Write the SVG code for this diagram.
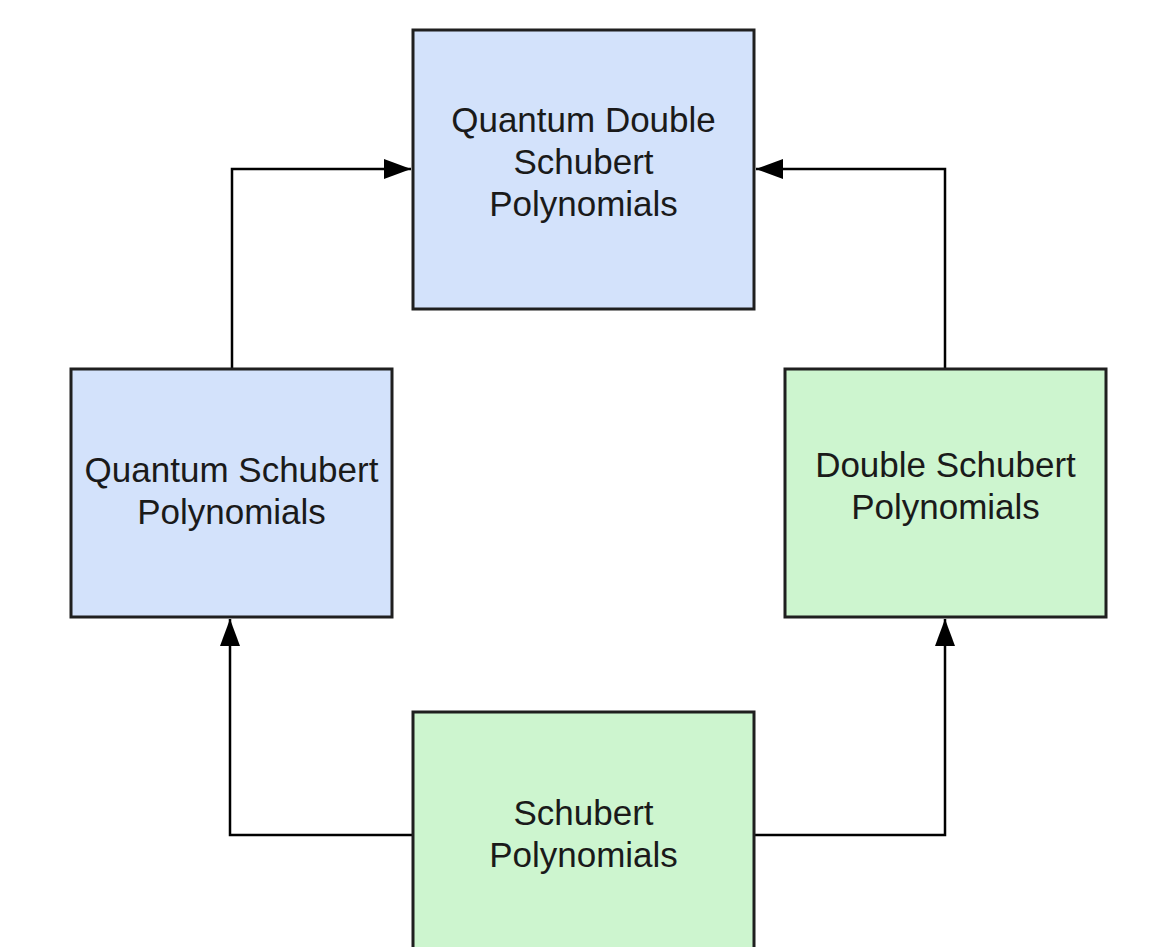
<svg xmlns="http://www.w3.org/2000/svg" width="1151" height="947" viewBox="0 0 1151 947">
<style>
.box{stroke:#1f1f1f;stroke-width:3}
.blue{fill:#d3e2fb}
.green{fill:#cdf5cf}
.lbl{font-family:"Liberation Sans",Arial,sans-serif;font-size:35px;fill:#1a1a1a;text-anchor:middle}
.conn{fill:none;stroke:#000;stroke-width:2.5}
</style>
<defs>
<marker id="arr" markerUnits="userSpaceOnUse" markerWidth="28" markerHeight="20" refX="27" refY="10" orient="auto">
<path d="M0,0 L27,10 L0,20 Z" fill="#000"/>
</marker>
</defs>
<rect width="1151" height="947" fill="#fff"/>
<g id="connectors">
<path class="conn" d="M232,369 V169 H411" marker-end="url(#arr)"/>
<path class="conn" d="M945,369 V169 H756" marker-end="url(#arr)"/>
<path class="conn" d="M413,835 H230 V619" marker-end="url(#arr)"/>
<path class="conn" d="M754,835 H945 V619" marker-end="url(#arr)"/>
</g>
<g id="qds">
<rect class="box blue" x="413" y="30" width="341" height="279"/>
<text class="lbl" x="583.5" y="132">Quantum Double</text>
<text class="lbl" x="583.5" y="174">Schubert</text>
<text class="lbl" x="583.5" y="216">Polynomials</text>
</g>
<g id="qs">
<rect class="box blue" x="71" y="369" width="321" height="248"/>
<text class="lbl" x="231.5" y="482">Quantum Schubert</text>
<text class="lbl" x="231.5" y="524">Polynomials</text>
</g>
<g id="ds">
<rect class="box green" x="785" y="369" width="321" height="248"/>
<text class="lbl" x="945.5" y="477">Double Schubert</text>
<text class="lbl" x="945.5" y="519">Polynomials</text>
</g>
<g id="s">
<rect class="box green" x="413" y="712" width="341" height="250"/>
<text class="lbl" x="583.5" y="825">Schubert</text>
<text class="lbl" x="583.5" y="867">Polynomials</text>
</g>
</svg>
